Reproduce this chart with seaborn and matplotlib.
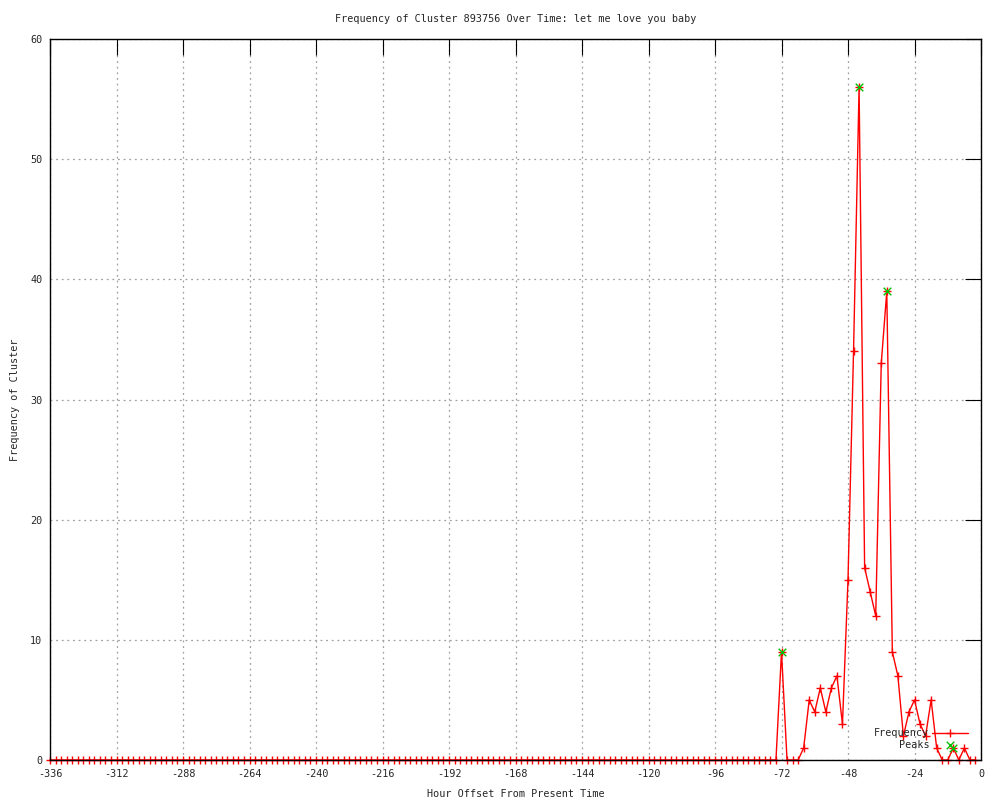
import matplotlib
matplotlib.use("Agg")
import matplotlib.pyplot as plt
import seaborn as sns
import pandas as pd

# ---- data ----
hours = list(range(-336, 0, 2))
leading_zeros = [
    0, 0, 0, 0, 0, 0, 0, 0, 0, 0, 0, 0, 0, 0, 0, 0, 0, 0, 0, 0, 0, 0,
    0, 0, 0, 0, 0, 0, 0, 0, 0, 0, 0, 0, 0, 0, 0, 0, 0, 0, 0, 0, 0, 0,
    0, 0, 0, 0, 0, 0, 0, 0, 0, 0, 0, 0, 0, 0, 0, 0, 0, 0, 0, 0, 0, 0,
    0, 0, 0, 0, 0, 0, 0, 0, 0, 0, 0, 0, 0, 0, 0, 0, 0, 0, 0, 0, 0, 0,
    0, 0, 0, 0, 0, 0, 0, 0, 0, 0, 0, 0, 0, 0, 0, 0, 0, 0, 0, 0, 0, 0,
    0, 0, 0, 0, 0, 0, 0, 0, 0, 0, 0, 0, 0, 0, 0, 0, 0, 0, 0, 0, 0, 0,
]
recent_freq = [9, 0, 0, 0, 1, 5, 4, 6, 4, 6, 7, 3, 15, 34, 56, 16, 14, 12,
               33, 39, 9, 7, 2, 4, 5, 3, 2, 5, 1, 0, 0, 1, 0, 1, 0, 0]
frequency = leading_zeros + recent_freq
peak_hours = [-72, -44, -34, -10]
peak_values = [9, 56, 39, 1]
x_ticks = [-336, -312, -288, -264, -240, -216, -192, -168, -144, -120,
           -96, -72, -48, -24, 0]
y_ticks = [0, 10, 20, 30, 40, 50, 60]

title = "Frequency of Cluster 893756 Over Time: let me love you baby"
xlabel = "Hour Offset From Present Time"
ylabel = "Frequency of Cluster"

df = pd.DataFrame({"hour": hours, "freq": frequency})
dfp = pd.DataFrame({"hour": peak_hours, "freq": peak_values})

sns.set_style("white")
plt.rcParams["font.family"] = ["DejaVu Sans Mono", "DejaVu Sans"]
plt.rcParams["axes.unicode_minus"] = False
FS = 7.3

fig = plt.figure(figsize=(10, 8), dpi=100)
ax = fig.add_axes([0.05, 0.05, 0.931, 0.90125])

sns.lineplot(data=df, x="hour", y="freq", ax=ax, color="#ff0000",
             linewidth=1.0, marker="+", markersize=6, markeredgewidth=1.0,
             markeredgecolor="#ff0000", label="Frequency", clip_on=False)
sns.scatterplot(data=dfp, x="hour", y="freq", ax=ax, color="#00c000",
                marker="x", s=30, linewidth=1.0, label="Peaks", zorder=5)

ax.set_xlim(-336, 0)
ax.set_ylim(0, 60)
ax.set_xticks(x_ticks)
ax.set_yticks(y_ticks)
ax.grid(True, color="#a0a0a0", linestyle=(0, (1.5, 3)), linewidth=0.9)
ax.set_axisbelow(True)
for s in ax.spines.values():
    s.set_visible(True)
    s.set_color("black")
    s.set_linewidth(1.0)
    s.set_zorder(4)
ax.tick_params(axis="both", direction="in", length=11.5, width=0.8,
               color="black", labelsize=FS, top=True, right=True,
               labeltop=False, labelright=False)
ax.tick_params(axis="x", pad=6.5)
ax.tick_params(axis="y", pad=5.5)

ax.set_title(title, fontsize=FS, pad=12.5)
ax.set_xlabel(xlabel, fontsize=FS, labelpad=7)
ax.set_ylabel(ylabel, fontsize=FS, labelpad=7)

leg = ax.legend(loc="lower right", bbox_to_anchor=(0.9935, 0.004),
                frameon=False, markerfirst=False, fontsize=FS,
                handlelength=3.5, handletextpad=0.3, labelspacing=0.15,
                borderaxespad=0.3)
for col in leg._legend_handle_box.get_children():
    col.align = "right"

fig.savefig("out.png", dpi=100)
